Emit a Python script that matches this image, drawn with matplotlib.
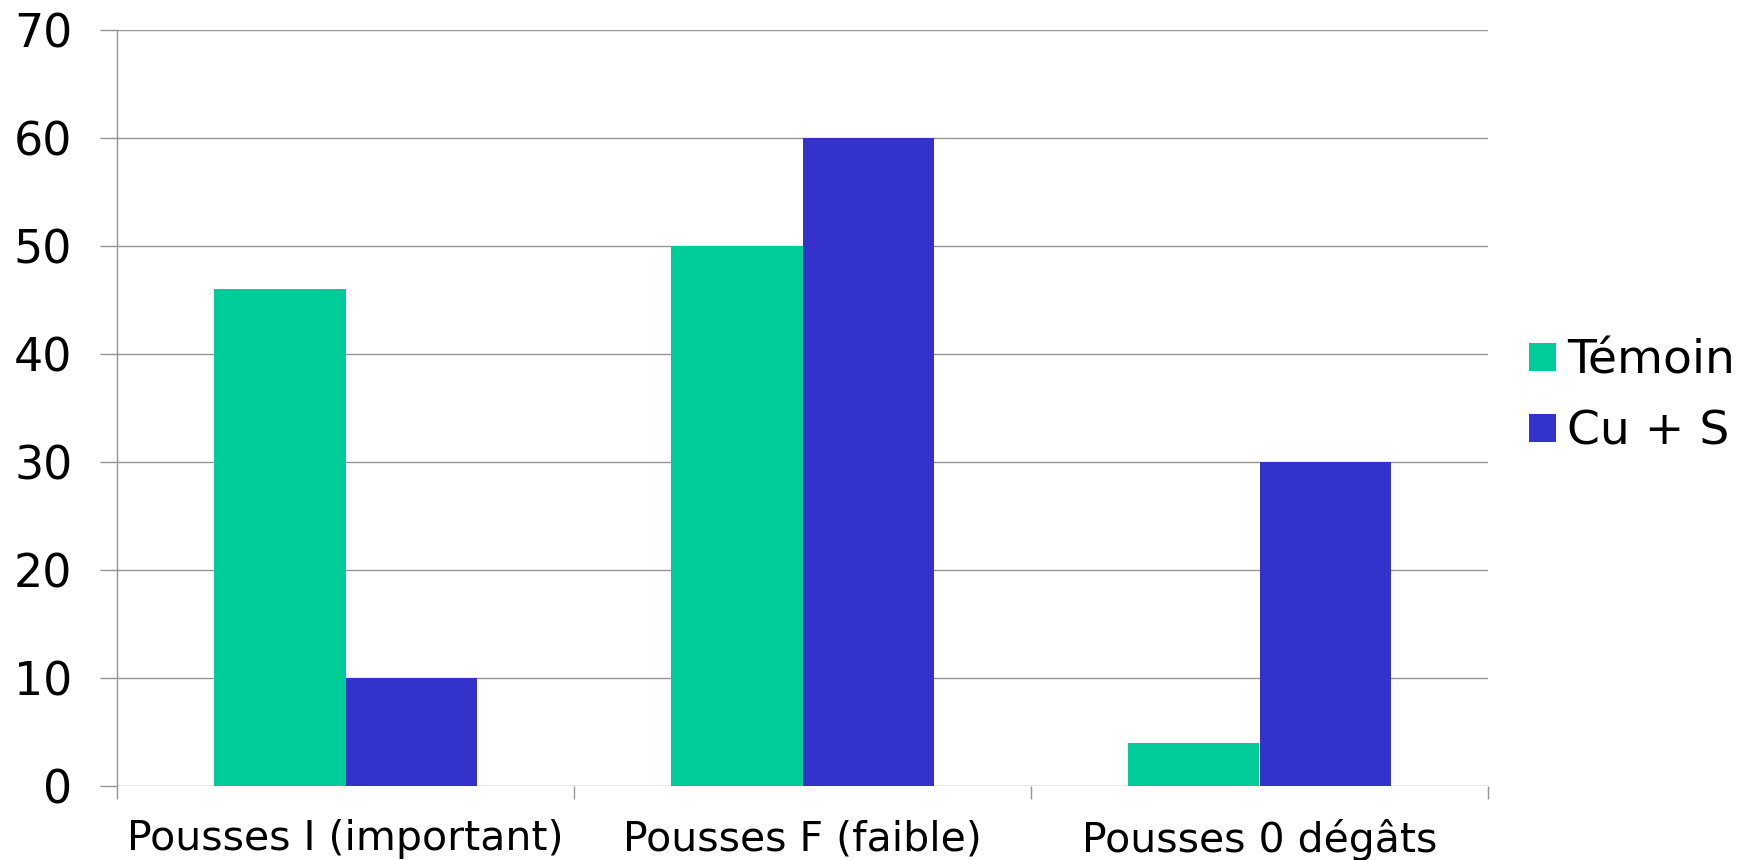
import matplotlib
matplotlib.use("Agg")
import matplotlib.pyplot as plt
import numpy as np
from matplotlib.patches import Patch

categories = ["Pousses I (important)", "Pousses F (faible)", "Pousses 0 dégâts"]
temoin = [46, 50, 4]
cus = [10, 60, 30]
series_names = ["Témoin", "Cu + S"]
colors = ["#00CC99", "#3333CC"]
yticks = [0, 10, 20, 30, 40, 50, 60, 70]

W, H = 1746, 860
fig = plt.figure(figsize=(W/100, H/100), dpi=100)
ax = fig.add_axes([117/W, 1 - 786/H, (1488-117)/W, (786-30)/H])

x = np.arange(len(categories))
w = 0.287
ax.bar(x - w/2, temoin, width=w, color=colors[0], zorder=3)
ax.bar(x + w/2, cus, width=w, color=colors[1], zorder=3)

grid_c = "#959595"
ax.set_xlim(-0.5, 2.5)
ax.set_ylim(0, 70)
ax.set_yticks(yticks)
ax.set_yticklabels([str(v) for v in yticks], fontsize=33)
ax.yaxis.grid(True, color=grid_c, linewidth=1.0, zorder=0)
ax.set_axisbelow(True)

ax.set_xticks(x)
ax.set_xticklabels(categories, fontsize=29.5)
ax.tick_params(axis="x", length=0, pad=24)
ax.set_xticks([-0.5, 0.5, 1.5, 2.5], minor=True)
ax.tick_params(axis="x", which="minor", length=9.5, width=1.0, color=grid_c, direction="out")
ax.tick_params(axis="y", length=12.2, width=1.0, color=grid_c, pad=20)

for s in ["top", "right", "bottom"]:
    ax.spines[s].set_visible(False)
ax.spines["left"].set_color(grid_c)
ax.spines["left"].set_linewidth(1.0)

handles = [Patch(facecolor=c, edgecolor="none") for c in colors]
fig.legend(handles, series_names, loc="center left",
           bbox_to_anchor=(1529/W, 1 - 396.5/H),
           frameon=False, fontsize=34, handlelength=0.57, handleheight=0.52,
           handletextpad=0.24, labelspacing=0.55, borderpad=0, borderaxespad=0)

fig.savefig("out.png", dpi=100, facecolor="white")
